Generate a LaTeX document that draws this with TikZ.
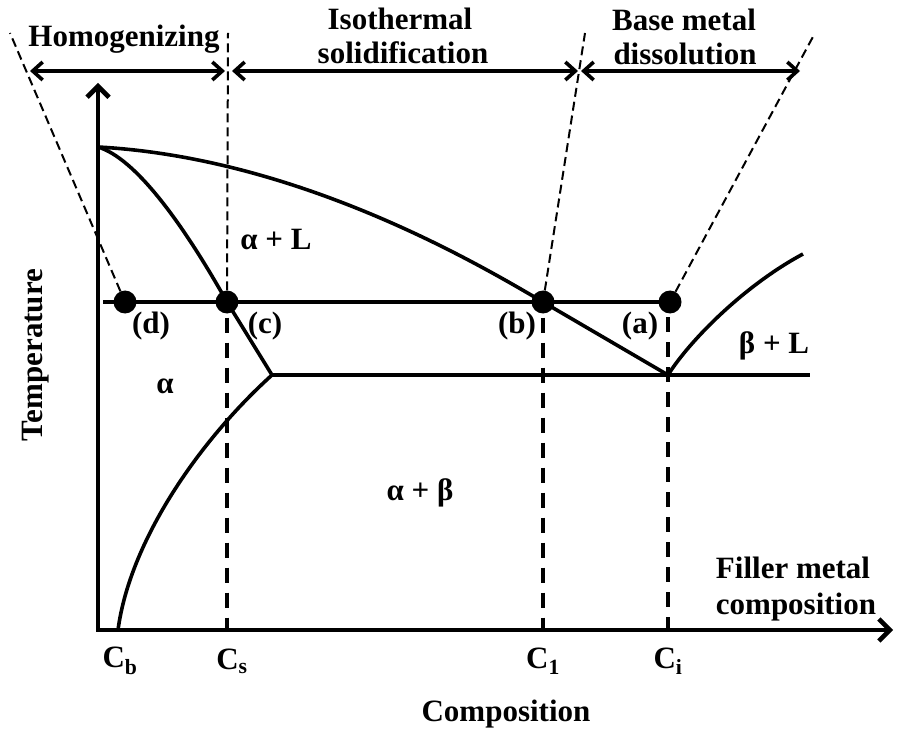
\documentclass[tikz,border=0pt]{standalone}
\usepackage{fontspec}
\setmainfont{Liberation Serif}
\usetikzlibrary{arrows.meta}
\begin{document}
\begin{tikzpicture}[x=1pt,y=-1pt,
  lbl/.style={font=\bfseries\fontsize{31}{36}\selectfont, inner sep=0pt},
  curve/.style={line width=3.6pt, line join=round},
  axisline/.style={line width=4.6pt, {Straight Barb[length=11pt,width=22pt]}-{Straight Barb[length=11pt,width=22pt]}},
  spanarrow/.style={line width=3.6pt, {Straight Barb[length=10pt,width=18pt]}-{Straight Barb[length=10pt,width=18pt]}},
  guide/.style={line width=2pt, dash pattern=on 9pt off 5pt},
  drop/.style={line width=4pt, dash pattern=on 15pt off 10pt},
  dot/.style={circle, fill=black, minimum size=23pt, inner sep=0pt},
]
\useasboundingbox (0,0) rectangle (902,735);

% key points
\coordinate (O) at (98,630);
\coordinate (Ytop) at (98,83);
\coordinate (Xend) at (893,630);
\coordinate (T) at (98,147);
\coordinate (E) at (668,375);
\coordinate (S) at (272,375);
\coordinate (Eend) at (810,375);
\coordinate (Rend) at (803,254);
\coordinate (Bot) at (118,630);
\coordinate (H0) at (103,302);

% dots
\node[dot] (d) at (125,302) {};
\node[dot] (c) at (227,302) {};
\node[dot] (b) at (543,302) {};
\node[dot] (a) at (670,302) {};

% axes
\draw[axisline] (Ytop) -- (O) -- (Xend);

% phase boundaries
\draw[curve] (T) .. controls (300,158) and (480,265) .. (b.center) -- (E);
\draw[curve] (T) .. controls (135,158) and (182,222) .. (c.center) -- (S);
\draw[curve] (S) -- (Eend);
\draw[curve] (E) .. controls (690,340) and (745,285) .. (Rend);
\draw[curve] (S) .. controls (200,440) and (130,540) .. (Bot);
\draw[curve] (H0) -- (a.center);

% guide lines
\coordinate (gd) at (10,33);
\coordinate (gc) at (228,33);
\coordinate (gb) at (585,33);
\coordinate (ga) at (815,33);
\draw[guide] (d) -- (gd);
\draw[guide] (c) -- (gc);
\draw[guide] (b) -- (gb);
\draw[guide] (a) -- (ga);

% drop lines
\draw[drop] ([yshift=-4pt]c.south) -- (c.south |- O);
\draw[drop] ([yshift=-4pt]b.south) -- (b.south |- O);
\coordinate (ci) at (668,317);
\draw[drop] (ci) -- (ci |- O);

% span arrows
\coordinate (h1) at (30,71);
\coordinate (h2) at (225,71);
\coordinate (i1) at (232,71);
\coordinate (i2) at (578,71);
\coordinate (m1) at (581,71);
\coordinate (m2) at (800,71);
\draw[spanarrow] (h1) -- (h2);
\draw[spanarrow] (i1) -- (i2);
\draw[spanarrow] (m1) -- (m2);

% labels
\node[lbl, anchor=base] (thom) at (124,47) {Homogenizing};
\node[lbl, anchor=base] (tiso1) at (400,30) {Isothermal};
\node[lbl, anchor=base] (tiso2) at (403,64) {solidification};
\node[lbl, anchor=base] (tbase1) at (684,31) {Base metal};
\node[lbl, anchor=base] (tbase2) at (685,65) {dissolution};

\node[lbl] (aL) at (276,240) {α + L};
\node[lbl] (ld) at (151,326) {(d)};
\node[lbl] (lc) at (265,326) {(c)};
\node[lbl] (lb) at (517,326) {(b)};
\node[lbl] (la) at (640,326) {(a)};
\node[lbl] (alpha) at (165,386) {α};
\node[lbl] (bL) at (774,346) {β + L};
\node[lbl] (ab) at (420,493) {α + β};

\node[lbl, anchor=base] (f1) at (793,578) {Filler metal};
\node[lbl, anchor=base] (f2) at (796,614) {composition};

\node[lbl] (cb) at (120,661) {C\textsubscript{b}};
\node[lbl] (cs) at (232,661) {C\textsubscript{s}};
\node[lbl] (c1) at (543,661) {C\textsubscript{1}};
\node[lbl] (cii) at (668,661) {C\textsubscript{i}};

\node[lbl] (comp) at (506,714) {Composition};
\node[lbl, rotate=90] (temp) at (36,355) {Temperature};
\end{tikzpicture}
\end{document}
